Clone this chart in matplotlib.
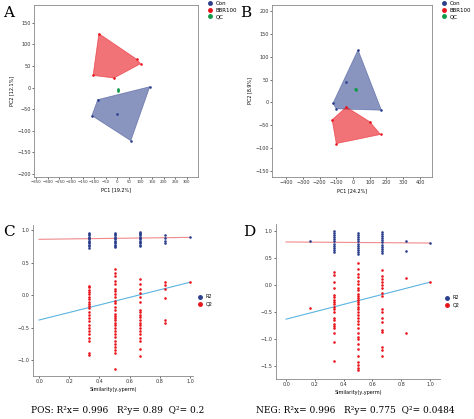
import matplotlib
matplotlib.use("Agg")
import matplotlib.pyplot as plt
from matplotlib.patches import Polygon
from matplotlib.lines import Line2D

# PCA scores, panel A (POS)
a_con_x = [-110, -85, 0, 140, 58]
a_con_y = [-65, -28, -62, 2, -123]
a_bbr_x = [-80, -105, -15, 100, 85]
a_bbr_y = [125, 28, 22, 55, 65]
a_qc_x = [2, 4, 3]
a_qc_y = [-5, -7, -3]
a_con_hull = [0, 1, 3, 4]
a_bbr_hull = [0, 1, 2, 3, 4]

# PCA scores, panel B (NEG)
b_con_x = [30, -40, -120, -100, 170]
b_con_y = [115, 44, -2, -14, -17]
b_bbr_x = [-40, -125, -100, 100, 165]
b_bbr_y = [-10, -38, -90, -42, -70]
b_qc_x = [10, 15, 20]
b_qc_y = [30, 28, 30]
b_con_hull = [0, 2, 3, 4]
b_bbr_hull = [0, 1, 2, 4, 3]

# permutation tests, panel C
c_r2 = {1/3: [0.72, 0.75, 0.78, 0.8, 0.82, 0.84, 0.86, 0.88, 0.9, 0.92, 0.94, 0.96],
        1/2: [0.74, 0.76, 0.78, 0.8, 0.82, 0.84, 0.86, 0.88, 0.9, 0.92, 0.94, 0.96],
        2/3: [0.75, 0.78, 0.8, 0.82, 0.84, 0.86, 0.88, 0.9, 0.92, 0.94, 0.96, 0.98],
        5/6: [0.8, 0.84, 0.88, 0.92],
        1.0: [0.89]}
c_q2 = {1/3: [0.15, 0.12, 0.08, 0.05, 0.02, -0.02, -0.06, -0.1, -0.13, -0.16, -0.2, -0.25,
              -0.3, -0.35, -0.4, -0.45, -0.5, -0.55, -0.6, -0.65, -0.7, -0.88, -0.92],
        1/2: [0.4, 0.35, 0.3, 0.22, 0.18, 0.1, 0.06, 0.02, -0.02, -0.08, -0.12, -0.18,
              -0.22, -0.28, -0.32, -0.35, -0.38, -0.42, -0.46, -0.5, -0.55, -0.6, -0.64,
              -0.7, -0.75, -0.8, -0.84, -0.88, -1.14],
        2/3: [0.25, 0.18, 0.1, 0.04, -0.02, -0.1, -0.22, -0.26, -0.3, -0.34, -0.38,
              -0.42, -0.46, -0.5, -0.55, -0.6, -0.65, -0.7, -0.82, -0.94],
        5/6: [0.2, 0.16, 0.1, -0.04, -0.38, -0.42],
        1.0: [0.2]}
c_r2_line = [0.86, 0.89]
c_q2_line = [-0.38, 0.2]

# permutation tests, panel D
d_r2 = {1/6: [0.8],
        1/3: [0.6, 0.64, 0.68, 0.72, 0.76, 0.8, 0.84, 0.88, 0.92, 0.96, 0.99],
        1/2: [0.56, 0.6, 0.64, 0.68, 0.72, 0.76, 0.8, 0.84, 0.88, 0.92, 0.96],
        2/3: [0.58, 0.62, 0.66, 0.7, 0.74, 0.78, 0.82, 0.86, 0.9, 0.94, 0.98],
        5/6: [0.8, 0.62],
        1.0: [0.77]}
d_q2 = {1/6: [-0.42],
        1/3: [0.24, 0.18, 0.05, -0.05, -0.18, -0.22, -0.28, -0.32, -0.36, -0.4, -0.45,
              -0.5, -0.6, -0.65, -0.72, -0.76, -0.8, -0.88, -1.05, -1.4],
        1/2: [0.4, 0.3, 0.2, 0.14, 0.08, 0.02, -0.05, -0.1, -0.16, -0.2, -0.24, -0.28,
              -0.32, -0.36, -0.4, -0.44, -0.5, -0.55, -0.6, -0.66, -0.72, -0.8, -0.88,
              -0.95, -1.0, -1.08, -1.18, -1.3, -1.42, -1.48, -1.52, -1.56],
        2/3: [0.28, 0.16, 0.1, 0.05, 0.0, -0.05, -0.15, -0.2, -0.45, -0.5, -0.6, -0.68,
              -0.82, -0.86, -1.15, -1.2, -1.3],
        5/6: [0.12, -0.88],
        1.0: [0.05]}
d_r2_line = [0.79, 0.77]
d_q2_line = [-0.63, 0.05]

BLUE = "#2b3f8c"
RED = "#e8141c"
GREEN = "#0f9a48"
GRAY = "#888888"

fig = plt.figure(figsize=(4.74, 4.19), dpi=100)
W, H = 474, 419


def add_ax(x0, y0, x1, y1):
    return fig.add_axes([x0 / W, 1 - y1 / H, (x1 - x0) / W, (y1 - y0) / H])


def style(ax, box=True, size=3.5):
    for s in ax.spines.values():
        s.set_color(GRAY)
        s.set_linewidth(0.6)
    if not box:
        ax.spines["top"].set_visible(False)
        ax.spines["right"].set_visible(False)
    ax.tick_params(labelsize=size, length=1.5, width=0.5, colors="#333333", pad=1)


def pca_panel(ax, con, bbr, qc, con_hull, bbr_hull, xlabel, ylabel):
    for (xs, ys), hull, c in [(con, con_hull, BLUE), (bbr, bbr_hull, RED)]:
        pts = [(xs[i], ys[i]) for i in hull]
        ax.add_patch(Polygon(pts, closed=True, facecolor=c, alpha=0.55 if c == BLUE else 0.6,
                             edgecolor=c, lw=0.5))
        ax.scatter(xs, ys, s=3.5, color=c, zorder=3, lw=0)
    ax.scatter(qc[0], qc[1], s=3.5, color=GREEN, zorder=3, lw=0)
    ax.set_xlabel(xlabel, fontsize=3.5, labelpad=2)
    ax.set_ylabel(ylabel, fontsize=3.5, labelpad=2)
    handles = [Line2D([], [], marker="o", ls="", color=c, markersize=2.5) for c in (BLUE, RED, GREEN)]
    ax.legend(handles, ["Con", "BBR100", "QC"], loc="upper left", bbox_to_anchor=(1.02, 1.04),
              frameon=False, fontsize=4, handletextpad=0.1, borderpad=0, labelspacing=0.3)


ax = add_ax(34, 5, 198, 177)
pca_panel(ax, (a_con_x, a_con_y), (a_bbr_x, a_bbr_y), (a_qc_x, a_qc_y), a_con_hull, a_bbr_hull,
          "PC1 [19.2%]", "PC2 [12.1%]")
style(ax)
ax.tick_params(axis="x", labelsize=2.8)
ax.set_xlim(-360, 348)
ax.set_ylim(-207, 191)
ax.set_xticks(range(-350, 301, 50))
ax.set_yticks(range(-200, 151, 50))
fig.text(3 / W, 1 - 17 / H, "A", fontsize=11, family="serif")

ax = add_ax(272, 5, 432, 177)
pca_panel(ax, (b_con_x, b_con_y), (b_bbr_x, b_bbr_y), (b_qc_x, b_qc_y), b_con_hull, b_bbr_hull,
          "PC1 [24.2%]", "PC2 [8.9%]")
style(ax)
ax.set_xlim(-484, 472)
ax.set_ylim(-163, 213)
ax.set_xticks(range(-400, 401, 100))
ax.set_yticks(range(-150, 201, 50))
fig.text(240 / W, 1 - 17 / H, "B", fontsize=11, family="serif")


def perm_panel(ax, r2, q2, r2_line, q2_line):
    for x, vals in r2.items():
        ax.scatter([x] * len(vals), vals, s=3.5, color=BLUE, zorder=3, lw=0)
    for x, vals in q2.items():
        ax.scatter([x] * len(vals), vals, s=3.5, color=RED, zorder=3, lw=0)
    ax.plot([0, 1], r2_line, color="#f08a8a", lw=0.8, zorder=2)
    ax.plot([0, 1], q2_line, color="#5ab4e0", lw=0.8, zorder=2)
    ax.set_xlabel("Similarity(y,yperm)", fontsize=3.5, labelpad=2)
    ax.set_xticks([0, 0.2, 0.4, 0.6, 0.8, 1.0])
    handles = [Line2D([], [], marker="o", ls="", color=c, markersize=2.5) for c in (BLUE, RED)]
    ax.legend(handles, ["R2", "Q2"], loc="center left", bbox_to_anchor=(1.0, 0.5),
              frameon=False, fontsize=3.5, handletextpad=0.1, borderpad=0, labelspacing=0.5)
    style(ax, box=False)


ax = add_ax(33, 225, 193, 376)
perm_panel(ax, c_r2, c_q2, c_r2_line, c_q2_line)
ax.set_xlim(-0.04, 1.02)
ax.set_ylim(-1.24, 1.08)
ax.set_yticks([-1.0, -0.5, 0.0, 0.5, 1.0])
fig.text(3 / W, 1 - 236 / H, "C", fontsize=11, family="serif")
fig.text(118 / W, 1 - 410 / H, "POS: R\u00b2x= 0.996   R\u00b2y= 0.89  Q\u00b2= 0.2",
         fontsize=6.5, family="serif", ha="center", va="center")

ax = add_ax(276, 224, 440, 379)
perm_panel(ax, d_r2, d_q2, d_r2_line, d_q2_line)
ax.set_xlim(-0.07, 1.07)
ax.set_ylim(-1.73, 1.12)
ax.set_yticks([-1.5, -1.0, -0.5, 0.0, 0.5, 1.0])
fig.text(243 / W, 1 - 236 / H, "D", fontsize=11, family="serif")
fig.text(355 / W, 1 - 410 / H, "NEG: R\u00b2x= 0.996   R\u00b2y= 0.775  Q\u00b2= 0.0484",
         fontsize=6.5, family="serif", ha="center", va="center")

fig.savefig("out.png", dpi=100)
